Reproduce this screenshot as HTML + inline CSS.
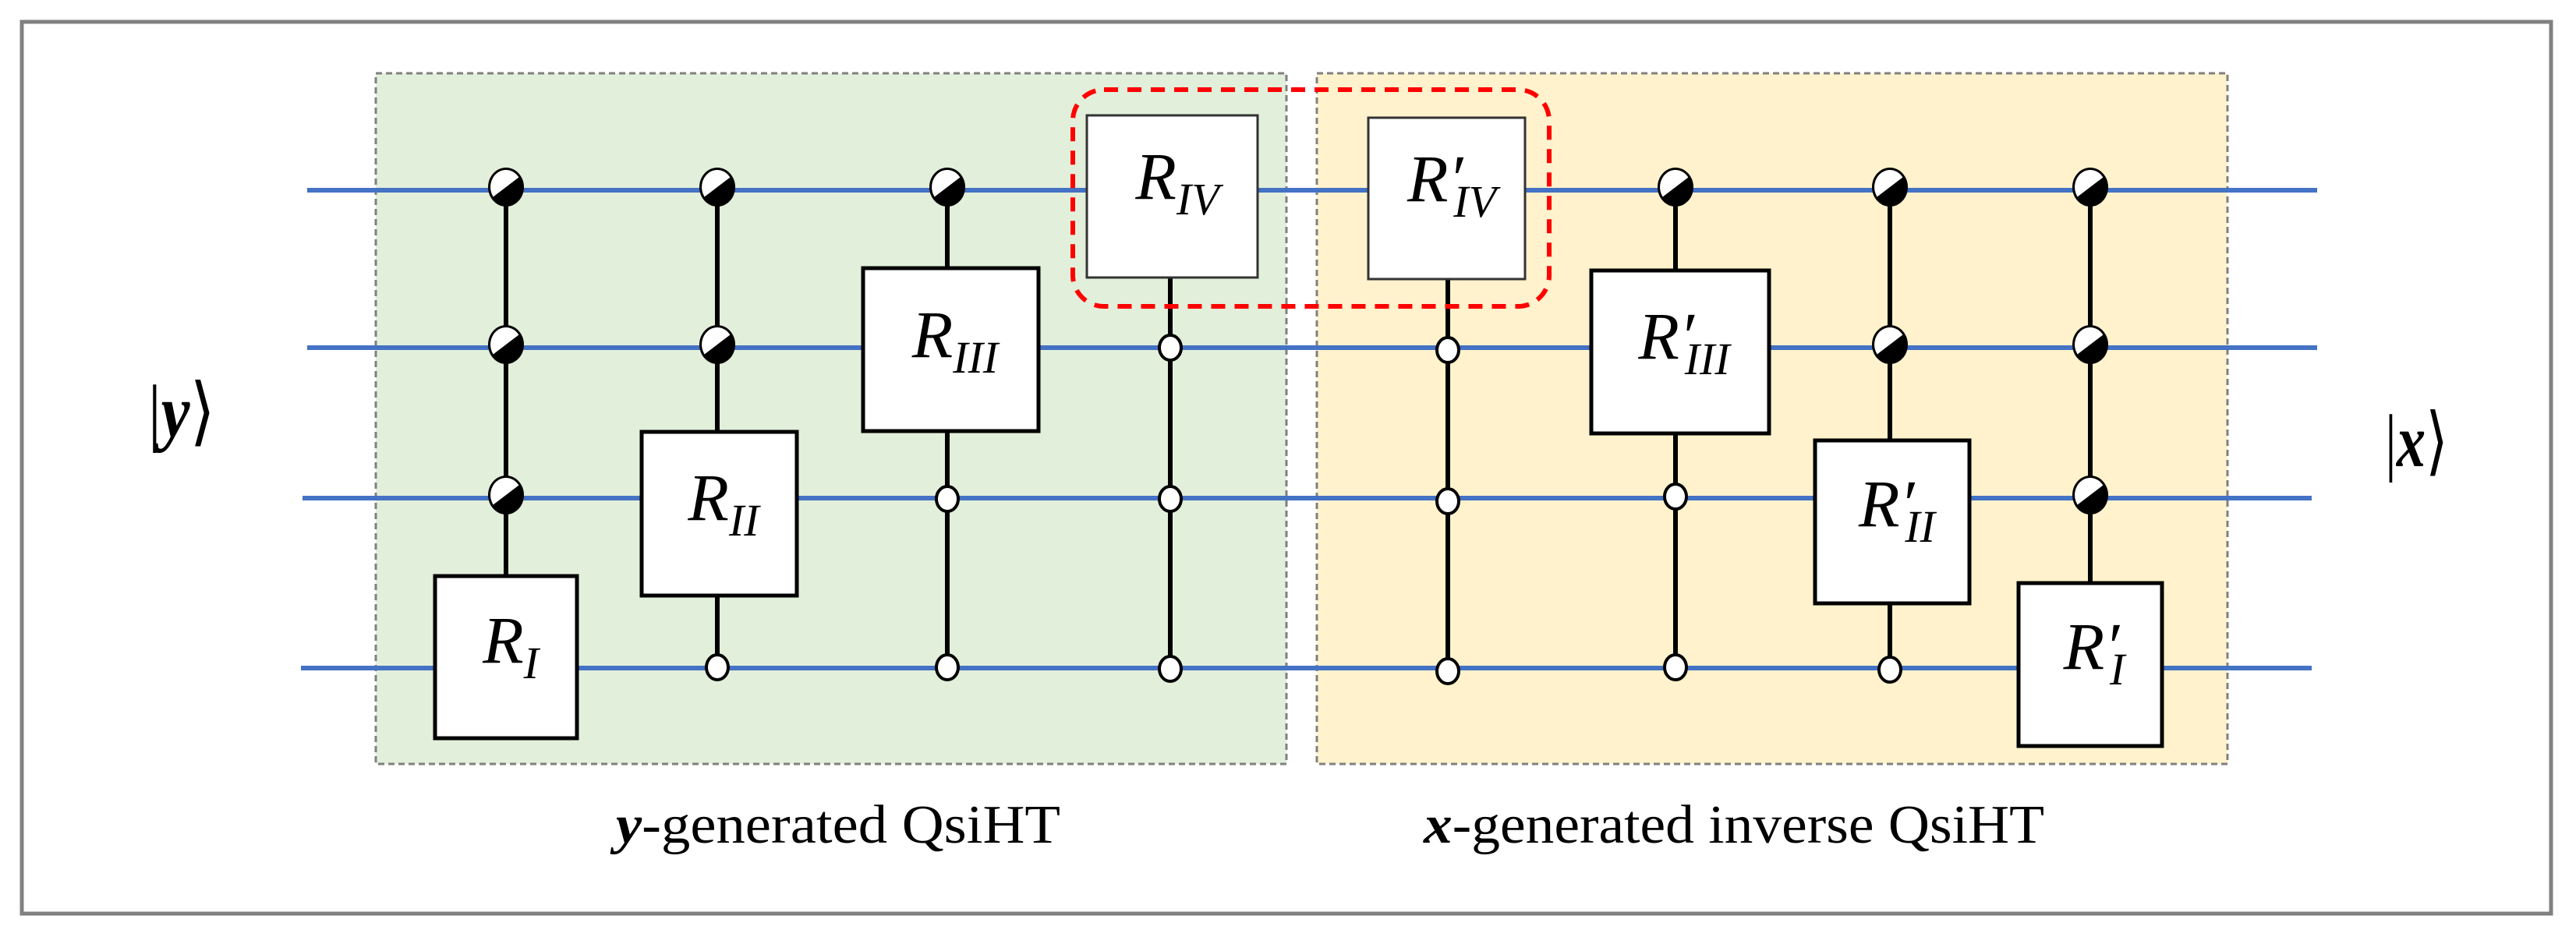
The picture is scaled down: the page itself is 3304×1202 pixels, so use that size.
<!DOCTYPE html>
<html><head><meta charset="utf-8"><style>
html,body{margin:0;padding:0;background:#fff;}
svg{display:block;}
text{font-family:"Liberation Serif","DejaVu Serif",serif;fill:#000;}
</style></head><body>
<svg width="3304" height="1202" viewBox="0 0 3304 1202" xmlns="http://www.w3.org/2000/svg">
<defs>
<g id="hc"><ellipse cx="0" cy="0" rx="23" ry="25" fill="#000"/><path d="M-16.4,12.5 A19,21 0 0 1 16.4,-12.5 Z" fill="#fff"/></g>
<g id="oc"><ellipse cx="0" cy="0" rx="14" ry="16" fill="#fff" stroke="#000" stroke-width="4"/></g>
</defs>
<rect x="28" y="28" width="3244" height="1144" fill="#fff" stroke="#808080" stroke-width="5"/>
<rect x="482" y="94" width="1168" height="886" fill="#E2EFDA" stroke="#808080" stroke-width="3" stroke-dasharray="8,5"/>
<rect x="1689" y="94" width="1168" height="886" fill="#FFF2CC" stroke="#808080" stroke-width="3" stroke-dasharray="8,5"/>
<g stroke="#4472C4" stroke-width="6">
<line x1="394" y1="244" x2="2972" y2="244"/>
<line x1="394" y1="446" x2="2972" y2="446"/>
<line x1="388" y1="639" x2="2965" y2="639"/>
<line x1="386" y1="857" x2="2965" y2="857"/>
</g>
<g stroke="#000" stroke-width="6">
<line x1="649" y1="240" x2="649" y2="739"/>
<line x1="920" y1="240" x2="920" y2="554"/><line x1="920" y1="764" x2="920" y2="857"/>
<line x1="1215" y1="240" x2="1215" y2="344"/><line x1="1215" y1="553" x2="1215" y2="857"/>
<line x1="1501" y1="356" x2="1501" y2="857"/>
<line x1="1857" y1="358" x2="1857" y2="857"/>
<line x1="2149" y1="240" x2="2149" y2="347"/><line x1="2149" y1="556" x2="2149" y2="857"/>
<line x1="2424" y1="240" x2="2424" y2="565"/><line x1="2424" y1="774" x2="2424" y2="857"/>
<line x1="2681" y1="240" x2="2681" y2="748"/>
</g>
<g fill="#fff" stroke="#000" stroke-width="5">
<rect x="558" y="739" width="182" height="208"/>
<rect x="823" y="554" width="199" height="210"/>
<rect x="1107" y="344" width="225" height="209"/>
<rect x="2041" y="347" width="228" height="209"/>
<rect x="2328" y="565" width="198" height="209"/>
<rect x="2589" y="748" width="184" height="209"/>
</g>
<g fill="#fff" stroke="#333" stroke-width="3">
<rect x="1394" y="148" width="219" height="208"/>
<rect x="1755" y="151" width="201" height="207"/>
</g>
<rect x="1376" y="115" width="611" height="278" rx="40" ry="40" fill="none" stroke="#FF0000" stroke-width="6" stroke-dasharray="18,12"/>
<use href="#hc" x="649" y="240"/><use href="#hc" x="649" y="442"/><use href="#hc" x="649" y="635"/>
<use href="#hc" x="920" y="240"/><use href="#hc" x="920" y="442"/>
<use href="#hc" x="1215" y="240"/>
<use href="#hc" x="2149" y="240"/>
<use href="#hc" x="2424" y="240"/><use href="#hc" x="2424" y="442"/>
<use href="#hc" x="2681" y="240"/><use href="#hc" x="2681" y="442"/><use href="#hc" x="2681" y="635"/>
<use href="#oc" x="920" y="856"/>
<use href="#oc" x="1215" y="640"/><use href="#oc" x="1215" y="856"/>
<use href="#oc" x="1501" y="446"/><use href="#oc" x="1501" y="640"/><use href="#oc" x="1501" y="858"/>
<use href="#oc" x="1857" y="449"/><use href="#oc" x="1857" y="643"/><use href="#oc" x="1857" y="861"/>
<use href="#oc" x="2149" y="637"/><use href="#oc" x="2149" y="856"/>
<use href="#oc" x="2424" y="859"/>
<g font-style="italic" font-size="86">
<text x="655" y="850" text-anchor="middle">R<tspan font-size="58" dy="20">I</tspan></text>
<text x="928" y="667" text-anchor="middle">R<tspan font-size="58" dy="20">II</tspan></text>
<text x="1225" y="458" text-anchor="middle">R<tspan font-size="58" dy="20">III</tspan></text>
<text x="1510" y="255" text-anchor="middle">R<tspan font-size="58" dy="20">IV</tspan></text>
<text x="1862" y="258" text-anchor="middle">R′<tspan font-size="58" dy="20" dx="-12">IV</tspan></text>
<text x="2160" y="460" text-anchor="middle">R′<tspan font-size="58" dy="20" dx="-12">III</tspan></text>
<text x="2433" y="675" text-anchor="middle">R′<tspan font-size="58" dy="20" dx="-12">II</tspan></text>
<text x="2686" y="858" text-anchor="middle">R′<tspan font-size="58" dy="20" dx="-12">I</tspan></text>
</g>
<text x="190" y="560" font-size="96" textLength="86" lengthAdjust="spacingAndGlyphs">|<tspan font-style="italic" font-weight="bold">y</tspan>⟩</text>
<text x="3059" y="598" font-size="96" textLength="81" lengthAdjust="spacingAndGlyphs">|<tspan font-style="italic" font-weight="bold">x</tspan>⟩</text>
<text x="790" y="1081" font-size="70" textLength="570" lengthAdjust="spacingAndGlyphs"><tspan font-style="italic" font-weight="bold">y</tspan>-generated QsiHT</text>
<text x="1826" y="1081" font-size="70" textLength="796" lengthAdjust="spacingAndGlyphs"><tspan font-style="italic" font-weight="bold">x</tspan>-generated inverse QsiHT</text>
</svg>
</body></html>
